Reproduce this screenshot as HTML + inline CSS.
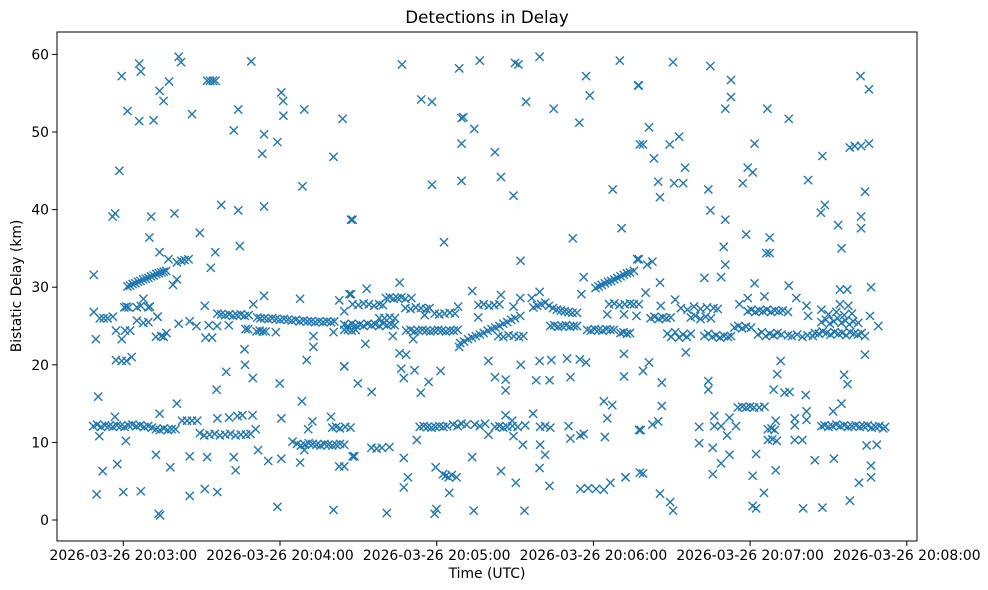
<!DOCTYPE html>
<html><head><meta charset="utf-8">
<style>
html,body{margin:0;padding:0;background:#fff;}
svg{display:block;font-family:"DejaVu Sans","Liberation Sans",sans-serif;}
</style></head>
<body>
<svg id="chart" width="988" height="590" viewBox="0 0 988 590">
<rect x="0" y="0" width="988" height="590" fill="#fff"/>
<text x="487" y="23" font-size="16.7" text-anchor="middle" fill="#000">Detections in Delay</text>
<text x="487" y="578" font-size="13.9" text-anchor="middle" fill="#000">Time (UTC)</text>
<text transform="translate(21,286) rotate(-90)" font-size="13.9" text-anchor="middle" fill="#000">Bistatic Delay (km)</text>
<g id="marks"></g>
<g id="axes"></g>
</svg>
<script>
// seconds relative to 20:03:00 UTC
const xTickSeconds = [0, 60, 120, 180, 240, 300];
const xTickLabels = ["2026-03-26 20:03:00","2026-03-26 20:04:00","2026-03-26 20:05:00","2026-03-26 20:06:00","2026-03-26 20:07:00","2026-03-26 20:08:00"];
const yTickValues = [0, 10, 20, 30, 40, 50, 60];
const yTickLabels = ["0","10","20","30","40","50","60"];

// scattered detections
const outT = [-0.6,1.6,6.1,6.7,6.1,11.6,13.9,15.4,17.5,21.2,22.1,26.3,32.1,33.2,34.3,35.3,42.3,44,49,53.2,53.9,59,60.5,61.2,61.3,68.6,69.3,80.5,84,-1.5,
 -4.1,-3.1,10.7,19.6,37.5,44,53.9,87.2,10,29.3,44.6,13.9,17.3,20.5,22.2,23.5,25,35.2,33.5,-11.3,19,20.5,
 -11.3,-9,-7.5,-6,-4,0.4,1.2,2,5.2,7.7,6.7,9.6,10.2,13.1,5.2,7.7,9.6,13.1,-10.5,-2.8,-0.6,0.7,2.6,12.5,14.5,16.5,15.5,-2.8,-0.6,1.2,3.2,21.2,25.4,28,32.7,35.9,40.4,31.5,34,31.2,49.8,53.9,46.8,47.8,58.4,67.7,72.8,72.8,80.5,82.7,84.6,86.6,
 46.4,46.6,49.6,39.4,35.7,59.9,70.2,84.6,20.5,68.4,
 -9.6,-9.2,-3.2,1,13.9,22.5,24.4,26.3,28.3,36,40.5,43.7,45.6,49.5,50.7,60.5,70.8,72.4,79.5,69.3,84.6,87.8,
 -10.2,-7.9,-2.3,0,6.7,12.5,13.5,14.1,18,25.4,25.4,31.2,32.1,36,42.3,43,51.6,55.5,60.5,67.7,59,80.5,
 106.7,114.1,118.2,128.6,136.5,129.5,130.2,134.4,150,151.3,159.4,154.2,164.8,177.2,178.6,174.6,190.1,197.1,129.5,142.3,197.8,118.2,129.5,144.6,149.4,187.4,87.8,122.8,172.1,190.8,152.1,196.8,
 105.8,93.2,87.2,128.2,133.6,144.6,149.4,152,156.4,159.4,175.4,176.3,185.3,191.7,196.5,92.7,103.2,111,128.6,135.9,115.4,
 105.8,108.3,84.6,106.4,111.5,121.5,107.4,116.9,89.8,95.1,113.9,139.8,142.3,146.4,146.4,152.2,159.4,163.9,169.9,174.8,177.2,158.1,163.2,171.2,191.7,191.7,184,187.2,185.3,
 112.4,139.8,149.4,153,159.6,161.5,95,97,99,101.9,88.5,107.4,133.6,82.7,170.5,171.2,175,176.3,184.4,197.5,146.4,148.9,156.9,
 119.6,122.4,123.5,124.6,125.8,127.6,109,107.4,124.8,144.6,150.3,159.4,163.2,175,178,181,184,186.5,192.3,197.8,100.9,119.2,119.9,134.2,153.6,
 210.5,224.8,197.4,232.7,232.7,230.5,246.6,254.8,282.3,285.5,201.3,199,209.2,212.8,203.2,215.1,204.8,210.9,214.4,205.5,241.7,239.1,241,237.2,262.2,278.2,280.1,282.5,285.5,224,224.8,230.5,267.7,267.1,268.6,273.7,282.5,282.5,284,275,238.5,247.5,246.2,247.5,229.9,230.5,222.5,228.9,197.4,200.6,202.6,205.5,241.7,254.8,274.4,277.2,286.3,
 200,197.4,205.8,211.3,215.4,235.9,239.1,245.5,257.7,261.6,262.2,267.3,274.4,277.6,284,284,285.9,289.1,
 251.7,250.4,249,253.2,255.1,261.3,276,277.3,224,224,206.2,206.2,201.3,199,271.8,275,
 198.1,202.6,204.8,220.5,226.3,226.3,228.9,232.1,234.6,231.2,220.5,225.7,246.8,248.2,249.4,246.8,248.5,250.2,249.8,257.1,257.1,261.6,261.6,257.1,260,242.3,232.1,228.9,264.8,272.1,286.3,284.6,288.5,
 192.3,199,225.7,241,249.8,286.3,281.7,245.3,205.5,209.4,210.5,241,242.3,260.3,267.7,278.2];
const outD = [57.2,52.7,58.8,57.8,51.4,51.5,55.3,54.0,56.5,59.7,59.0,52.3,56.6,56.6,56.6,56.6,50.2,52.9,59.1,47.2,49.7,48.7,55.1,54.0,52.1,43.0,52.9,46.8,51.7,45.0,
 39.1,39.5,39.1,39.5,40.6,39.9,40.4,38.7,36.4,37.0,35.3,34.5,33.6,33.2,33.4,33.5,33.6,34.5,32.5,31.6,30.3,31.0,
 26.8,26.0,26.0,26.0,26.2,27.4,27.5,27.4,27.4,28.5,27.6,27.4,27.5,26.2,25.7,25.4,25.5,26.2,23.3,24.4,23.3,24.4,24.4,23.6,23.7,24.1,23.6,20.6,20.5,20.5,21.0,25.3,25.6,25.0,25.1,25.0,25.1,23.5,23.5,27.6,27.8,28.9,24.6,24.6,24.2,28.5,23.7,22.3,24.2,28.3,26.9,29.1,
 22.0,20.0,18.3,19.1,16.8,17.6,20.6,19.8,15.0,15.3,
 15.9,10.8,13.3,10.2,13.7,12.8,12.8,12.8,12.8,13.1,13.2,13.4,13.5,13.5,11.7,13.1,11.7,12.7,13.3,9.0,6.9,8.2,
 3.3,6.3,7.2,3.6,3.7,8.4,0.8,0.6,6.8,8.2,3.1,4.0,8.1,3.6,8.1,6.4,9.0,7.6,7.9,7.4,1.7,1.3,
 58.7,54.2,53.9,58.2,59.2,51.8,51.9,50.4,58.9,58.7,59.7,53.9,53.0,57.2,54.7,51.2,59.2,56.0,48.5,47.4,48.4,43.2,43.7,44.2,41.8,42.6,38.7,35.8,36.3,37.6,33.4,33.6,
 30.6,29.8,29.1,27.5,29.5,29.0,27.5,28.6,28.6,29.4,29.1,31.3,26.5,26.5,26.3,22.7,23.7,23.3,22.3,26.1,26.4,
 21.5,21.3,19.8,19.5,19.3,19.2,18.3,17.8,17.6,16.5,16.4,20.5,18.4,18.1,16.7,20.0,20.5,20.6,20.8,20.7,20.3,18.0,18.0,18.4,21.4,18.5,15.3,14.8,13.1,
 10.3,11.0,10.8,9.7,9.7,8.4,9.3,9.2,9.3,9.4,8.2,8.0,8.1,6.9,12.1,10.5,10.9,11.1,10.7,11.6,13.5,12.8,13.7,
 6.8,5.9,5.7,5.5,5.8,5.5,5.5,4.2,3.5,6.3,4.8,6.7,4.4,4.0,4.1,4.0,3.9,4.8,5.5,6.1,0.9,0.8,1.4,1.2,1.2,
 59.0,58.5,56.0,56.7,54.5,53.0,53.0,51.7,57.2,55.5,50.6,48.4,48.4,49.4,46.6,45.4,43.6,43.4,43.4,41.6,48.5,45.4,44.8,43.4,43.8,48.0,48.2,48.2,48.5,42.6,39.9,38.7,46.9,39.6,40.6,38.0,39.1,37.6,42.3,35.0,36.8,36.4,34.4,34.4,35.2,32.9,31.2,31.3,33.6,32.9,33.3,30.6,30.5,30.2,29.7,29.7,30.0,
 29.3,27.8,27.6,28.4,21.6,27.8,28.6,28.8,28.6,27.6,26.3,27.1,27.8,27.6,23.7,21.3,26.3,25.0,
 20.5,18.8,16.8,16.4,16.5,16.1,18.7,17.5,17.9,16.8,17.7,14.7,20.3,19.2,14.0,15.0,
 11.6,12.3,12.7,12.0,13.4,12.1,12.1,13.2,12.1,10.9,9.9,9.3,11.7,11.8,11.6,10.3,10.4,10.2,12.8,13.1,12.2,14.0,12.9,10.3,10.3,8.5,8.4,7.3,7.7,7.9,7.0,9.6,9.7,
 5.5,6.0,5.9,5.7,6.4,5.5,4.8,3.5,3.4,2.3,1.2,1.8,1.5,1.5,1.6,2.5];

// dense track detections
const bandT = [-11.5,-10,-8.5,-7,-5.5,-4,-2.5,-1,0.5,2,3.5,5,6.5,8,9.5,11,
 12.5,14,15.5,17,18.5,20,
 29.3,31,33,35,37,39,41,43,45,47,48.7,
 64.8,66.5,68,69.5,71,72.5,74,75.5,77,78.5,80,81.5,83,84.6,
 80,81.5,83,85,87,
 113.5,115,116.5,118,119.5,121,122.5,124,126.3,128,129.5,131.4,134.6,136.5,138.5,
 142.3,144,145.5,147,149,151,153.9,159.6,161.5,163.5,
 235.3,237,238.5,240,241.5,243.5,245.5,
 267.3,268.5,270,271.5,273,274.5,276,277.5,279,280.5,282,283.5,285,286.5,288,289.5,291,291.7,
 1.6,2.6,3.6,4.6,5.6,6.6,7.6,8.6,9.6,10.6,11.6,12.6,13.6,14.6,15.5,16.4,
 36,37.5,39,40.5,42,43.5,45,46.5,48,
 51.3,52.5,54,55.5,57,58.5,60,61.5,63,64.5,66,67.5,69,70.5,72,73.5,75,76.5,78,79.5,80.8,
 51,52.2,53.4,54.5,
 84.6,86,87.5,89,90.5,92,93.5,95,96.5,98,99.5,101,102.5,103.9,
 84.6,86,87.5,89,98,100,102,104,
 87.8,90,92,94,96,98,99.4,
 100.6,102,103.5,105,106.5,108,110.3,
 108,110,112,114,116,117.3,
 119.2,121,123,125,127,
 108.3,110,111.5,113,114.5,116,117.5,119,120.5,122,123.5,125,126.5,128,
 136,138,140,142,144,
 129,130.5,132,133.5,135,136.5,138,139.5,141,142.5,144,145.5,147,148.5,150,152,
 143.6,145.5,147.5,149.5,151.5,153.2,
 157,158.5,160,161.5,163,164.5,166,167.5,169,170.5,172,173.7,
 163.5,165,166.5,168,169.5,171,172.5,173.7,
 177.6,179,180.5,182,183.5,185,186.5,187.8,
 180.8,182,183.2,184.4,185.6,186.8,188,189.2,190.4,191.6,192.8,194,195.5,
 186,188,190,192,194,195.5,
 190.4,191.5,192.8,194,
 201.9,203.4,205,206.5,208,209.6,
 208.3,209.8,211.3,212.8,214.3,215.8,217.3,
 213.5,216,218.5,221,223.5,226,227.6,
 217.3,219,221,223,225,
 222.5,224,225.5,227,228.5,230,231.5,232.7,
 239.1,240.5,242,243.5,245,246.5,248,249.5,251,252.5,254.5,
 234,235.5,237,238.5,240.4,
 243,244.5,246,247.5,249,250.5,252,254.5,
 256,258,260,262,264,
 264.8,266.3,267.8,269.3,270.8,272.3,273.8,275.3,276.8,278.3,279.8,281.3,282.7,
 267.3,269,270.5,272,273.5,275,276.5,278,279.5,281.4,
 270,273,276,279];
const bandD = [12.1,12.3,12.0,12.2,12.1,12.0,12.2,12.1,12.0,12.2,12.3,12.1,12.2,12.0,12.1,11.9,
 11.7,11.6,11.8,11.6,11.7,11.7,
 11.2,10.9,11.0,11.1,10.9,11.0,11.1,10.9,11.0,11.0,11.1,
 10.1,9.8,9.6,9.7,9.9,9.8,9.7,9.6,9.8,9.7,9.6,9.7,9.8,9.7,
 11.9,12.0,11.8,12.0,11.9,
 12.0,12.1,12.0,11.9,12.0,12.1,12.0,12.1,12.3,12.1,12.4,12.3,12.3,12.1,12.4,
 12.0,12.1,11.9,12.0,12.1,12.0,12.2,12.0,12.1,11.9,
 14.5,14.6,14.5,14.6,14.5,14.5,14.6,
 12.1,12.2,12.0,12.1,12.3,12.1,12.2,12.0,12.1,12.2,12.0,12.1,12.2,11.9,12.0,12.1,11.8,12.0,
 30.1,30.2,30.4,30.5,30.7,30.8,31.0,31.1,31.2,31.4,31.5,31.7,31.8,31.9,32.0,32.1,
 26.6,26.5,26.4,26.5,26.3,26.4,26.5,26.3,26.4,
 26.1,26.0,26.0,25.9,26.0,25.9,25.8,25.9,25.8,25.7,25.8,25.6,25.7,25.6,25.6,25.5,25.6,25.5,25.6,25.5,25.6,
 24.3,24.4,24.3,24.3,
 25.2,25.0,25.3,25.1,25.2,25.0,25.3,25.1,25.2,25.0,25.3,25.1,25.2,25.1,
 24.5,24.5,24.4,24.5,26.0,26.0,26.1,26.0,
 27.8,27.7,27.9,27.8,27.6,27.8,27.7,
 28.6,28.7,28.5,28.6,28.7,28.5,28.6,
 27.3,27.2,27.4,27.3,27.2,27.3,
 26.6,26.5,26.6,26.7,26.6,
 24.4,24.5,24.3,24.4,24.5,24.4,24.3,24.4,24.5,24.4,24.3,24.4,24.4,24.5,
 27.7,27.8,27.6,27.7,27.8,
 22.8,23.0,23.3,23.5,23.7,23.9,24.1,24.4,24.6,24.8,25.0,25.3,25.5,25.8,26.0,26.3,
 23.7,23.6,23.8,23.7,23.6,23.7,
 27.4,27.6,27.8,28.0,27.6,27.3,27.1,27.0,26.9,26.8,26.7,26.7,
 25.0,25.1,24.9,25.0,25.1,24.9,25.0,25.0,
 24.5,24.4,24.6,24.5,24.4,24.6,24.5,24.5,
 29.9,30.1,30.3,30.5,30.7,30.8,31.0,31.2,31.4,31.6,31.8,31.9,32.1,
 27.8,27.9,27.7,27.8,27.9,27.8,
 24.1,24.2,24.0,24.1,
 26.0,26.2,25.9,26.1,26.0,26.1,
 24.0,23.6,24.2,23.5,23.9,23.6,24.0,
 27.3,27.1,27.5,27.2,27.4,27.3,27.2,
 26.1,26.3,25.9,26.2,26.0,
 23.7,24.0,23.6,23.8,23.5,23.7,23.6,23.7,
 26.9,27.1,26.8,27.0,26.9,27.1,26.8,27.0,26.9,27.0,26.8,
 24.8,25.0,24.7,24.9,24.8,
 23.9,24.2,23.7,24.0,23.8,24.1,23.9,23.8,
 23.7,23.9,23.6,23.8,23.7,
 24.1,24.0,24.3,24.1,23.9,24.2,24.0,24.1,23.8,24.2,24.0,23.9,24.1,
 25.5,25.8,25.3,25.6,26.0,25.4,25.7,25.2,25.6,25.4,
 26.5,26.8,26.4,26.6];

const NS = "http://www.w3.org/2000/svg";
const plot = {left:57, right:917, top:32, bottom:541};
function xScale(t){ return 123.3 + t * (156.7/60); }
function yScale(d){ return 520 - d * 7.76; }

const marks = document.getElementById('marks');
const axes = document.getElementById('axes');

function drawMark(t, d, i, group){
  const x = xScale(t), y = yScale(d), r = 4.1;
  const p = document.createElementNS(NS, 'path');
  p.setAttribute('d', `M${x-r},${y-r}L${x+r},${y+r}M${x-r},${y+r}L${x+r},${y-r}`);
  p.setAttribute('stroke', '#1f77b4');
  p.setAttribute('stroke-width', '1.4');
  p.setAttribute('fill', 'none');
  
  
  marks.appendChild(p);
}
const nOut = Math.min(outT.length, outD.length);
for (let i = 0; i < nOut; i++) drawMark(outT[i], outD[i], i, 'out');
const nBand = Math.min(bandT.length, bandD.length);
for (let i = 0; i < nBand; i++) drawMark(bandT[i], bandD[i], i, 'band');

// frame
const frame = document.createElementNS(NS, 'rect');
frame.setAttribute('x', plot.left); frame.setAttribute('y', plot.top);
frame.setAttribute('width', plot.right - plot.left); frame.setAttribute('height', plot.bottom - plot.top);
frame.setAttribute('fill', 'none'); frame.setAttribute('stroke', '#000'); frame.setAttribute('stroke-width', '1');


axes.appendChild(frame);

xTickSeconds.forEach((s, i) => {
  const x = xScale(s);
  const l = document.createElementNS(NS, 'line');
  l.setAttribute('x1', x); l.setAttribute('x2', x);
  l.setAttribute('y1', plot.bottom); l.setAttribute('y2', plot.bottom + 4.9);
  l.setAttribute('stroke', '#000');
  
  
  axes.appendChild(l);
  const tx = document.createElementNS(NS, 'text');
  tx.setAttribute('x', x); tx.setAttribute('y', plot.bottom + 19);
  tx.setAttribute('text-anchor', 'middle'); tx.setAttribute('font-size', '13.9');
  tx.textContent = xTickLabels[i];
  
  
  axes.appendChild(tx);
});
yTickValues.forEach((v, i) => {
  const y = yScale(v);
  const l = document.createElementNS(NS, 'line');
  l.setAttribute('x1', plot.left - 4.9); l.setAttribute('x2', plot.left);
  l.setAttribute('y1', y); l.setAttribute('y2', y);
  l.setAttribute('stroke', '#000');
  
  
  axes.appendChild(l);
  const tx = document.createElementNS(NS, 'text');
  tx.setAttribute('x', plot.left - 8); tx.setAttribute('y', y + 5);
  tx.setAttribute('text-anchor', 'end'); tx.setAttribute('font-size', '13.9');
  tx.textContent = yTickLabels[i];
  
  
  axes.appendChild(tx);
});
</script>
</body></html>
